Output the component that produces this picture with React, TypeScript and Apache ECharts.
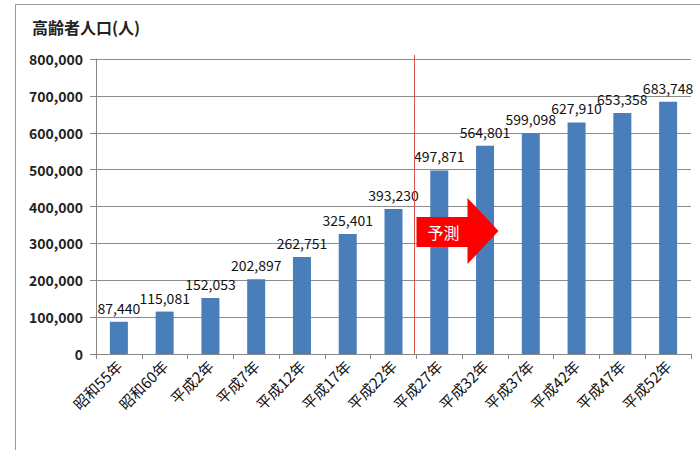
import React, { useEffect, useRef } from "react";
import * as echarts from "echarts";

const categories = [
  "昭和55年", "昭和60年", "平成2年", "平成7年", "平成12年", "平成17年", "平成22年",
  "平成27年", "平成32年", "平成37年", "平成42年", "平成47年", "平成52年",
];
const population = [
  87440, 115081, 152053, 202897, 262751, 325401, 393230,
  497871, 564801, 599098, 627910, 653358, 683748,
];
const yTicks = { min: 0, max: 800000, interval: 100000 };
const titleText = "高齢者人口(人)";
const forecastText = "予測";
const forecastStartIndex = 7;

const JP = '"Noto Sans CJK JP", "Noto Sans", sans-serif';

export default function App() {
  const ref = useRef<HTMLDivElement>(null);
  useEffect(() => {
    if (!ref.current) return;
    const chart = echarts.init(ref.current, null, { renderer: "svg" });
    chart.setOption({
      animation: false,
      backgroundColor: "#ffffff",
      title: {
        text: titleText,
        left: 27,
        top: 14,
        textStyle: { fontFamily: JP, fontSize: 16, fontWeight: "bold", color: "#222" },
      },
      grid: { left: 96, right: 9, top: 59, bottom: 96 },
      xAxis: {
        type: "category",
        data: categories,
        boundaryGap: true,
        axisLine: { lineStyle: { color: "#868686" } },
        axisTick: { show: true, length: 5, lineStyle: { color: "#868686" }, alignWithLabel: false },
        axisLabel: {
          rotate: 45,
          margin: 9,
          interval: 0,
          fontFamily: JP,
          fontSize: 15,
          color: "#111",
        },
      },
      yAxis: {
        type: "value",
        min: yTicks.min,
        max: yTicks.max,
        interval: yTicks.interval,
        axisLine: { show: true, lineStyle: { color: "#868686" } },
        axisTick: { show: true, length: 6, inside: false, lineStyle: { color: "#868686" } },
        splitLine: { lineStyle: { color: "#8c8c8c", width: 1 } },
        axisLabel: {
          margin: 13,
          fontFamily: JP,
          fontSize: 14,
          fontWeight: "bold",
          color: "#222",
          formatter: (v: number) => v.toLocaleString("en-US"),
        },
      },
      series: [
        {
          type: "bar",
          data: population,
          barWidth: 18,
          itemStyle: { color: "#4a7ebb" },
          label: {
            show: true,
            position: "top",
            distance: 7,
            fontFamily: JP,
            fontSize: 14,
            color: "#111",
            formatter: (p: any) => Number(p.value).toLocaleString("en-US"),
          },
        },
      ],
    });

    const xa = chart.convertToPixel({ xAxisIndex: 0 }, categories[forecastStartIndex - 1]) as number;
    const xb = chart.convertToPixel({ xAxisIndex: 0 }, categories[forecastStartIndex]) as number;
    const midX = Math.round((xa + xb) / 2) - 1.5;
    const yTop = (chart.convertToPixel({ yAxisIndex: 0 }, yTicks.max) as number) - 4;
    const yBot = chart.convertToPixel({ yAxisIndex: 0 }, 0) as number;
    const ax = midX + 2;
    chart.setOption({
      graphic: [
        {
          type: "rect",
          shape: { x: 15.5, y: 4.5, width: 700, height: 460 },
          style: { fill: "none", stroke: "#9a9a9a", lineWidth: 1 },
          silent: true,
          z: 0,
        },
        {
          type: "line",
          shape: { x1: midX, y1: yTop, x2: midX, y2: yBot },
          style: { stroke: "#d9534f", lineWidth: 1 },
          z: 10,
        },
        {
          type: "polygon",
          shape: {
            points: [
              [ax, 217], [ax + 51, 217], [ax + 51, 198], [ax + 82, 231],
              [ax + 51, 264], [ax + 51, 247], [ax, 247],
            ],
          },
          style: { fill: "#ff0000" },
          z: 20,
        },
        {
          type: "text",
          x: ax + 11,
          y: 232,
          style: {
            text: forecastText,
            fill: "#ffffff",
            fontFamily: JP,
            fontSize: 16,
            verticalAlign: "middle",
          },
          z: 21,
        },
      ],
    });
    return () => chart.dispose();
  }, []);
  return (
    <div
      ref={ref}
      style={{ position: "fixed", left: 0, top: 0, width: 700, height: 450 }}
    />
  );
}
